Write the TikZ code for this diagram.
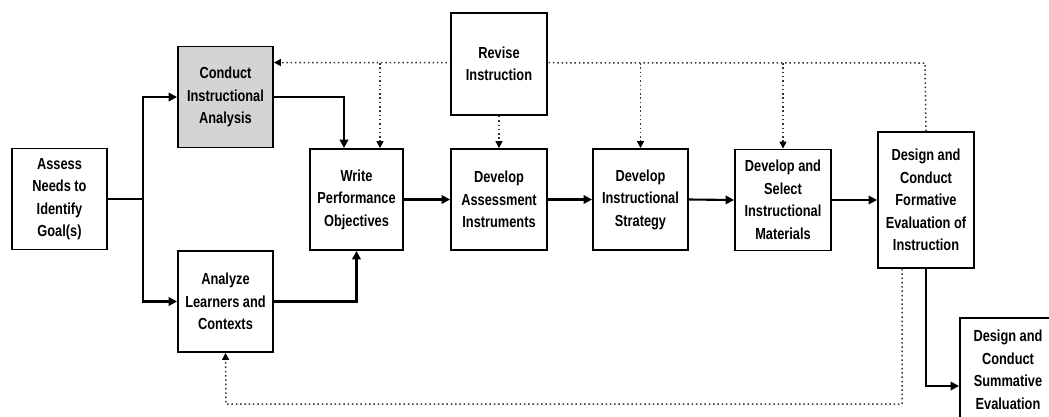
\documentclass[tikz,border=0pt]{standalone}
\usepackage{fontspec}
\setmainfont{Liberation Sans}[FakeStretch=0.8]
\usetikzlibrary{arrows.meta}
\tikzset{
  box/.style={draw=black, line width=1.9pt, fill=white, rectangle, inner sep=2pt,
    minimum width=95pt, minimum height=101pt, align=center,
    font=\bfseries\fontsize{16}{22.5}\selectfont},
  flow/.style={draw=black, line width=2.1pt, -{Triangle[length=8.5pt,width=8.5pt]}},
  thickflow/.style={draw=black, line width=2.7pt, -{Triangle[length=8.5pt,width=8.5pt]}},
  plain/.style={draw=black, line width=2.7pt},
  fb/.style={draw=black!80, line width=1.5pt, dash pattern=on 1.5pt off 2.8pt},
  fbarrow/.style={fb, -{Triangle[length=7pt,width=7pt,color=black,fill=black]}},
}
\begin{document}
\begin{tikzpicture}[x=1pt,y=-1pt]
\useasboundingbox (0,0) rectangle (1049,416);
\clip (0,0) rectangle (1049,416);
\fill[white] (0,0) rectangle (1049,416);

% feedback corner points
\coordinate (fbtop) at (925,63);
\coordinate (fbbot) at (902,404);
\coordinate (fbleft) at (226,404);

% boxes
\node[box] (assess) at (59.5,199) {Assess\\Needs to\\Identify\\Goal(s)};
\node[box, fill=black!17] (conduct) at (225.5,97) {Conduct\\Instructional\\Analysis};
\node[box] (analyze) at (225.5,301.5) {Analyze\\Learners and\\Contexts};
\node[box, minimum width=93pt] (write) at (356.5,199.5) {Write\\Performance\\Objectives};
\node[box, minimum width=96pt] (devassess) at (499,199.5) {Develop\\Assessment\\Instruments};
\node[box] (strategy) at (640.5,199.5) {Develop\\Instructional\\Strategy};
\node[box, minimum width=96pt] (select) at (783,200) {Develop and\\Select\\Instructional\\Materials};
\node[box, minimum width=96pt, minimum height=136pt] (formative) at (926,200) {Design and\\Conduct\\Formative\\Evaluation of\\Instruction};
\node[box, minimum width=96pt, minimum height=104pt] (summative) at (1008,370) {Design and\\Conduct\\Summative\\Evaluation};

% dotted feedback from formative evaluation
\draw[fbarrow] (formative.north) -- (fbtop) -- ([yshift=-17pt]conduct.north east);
\draw[fbarrow] ([xshift=23.5pt]write.north |- fbtop) -- ([xshift=23.5pt]write.north);
\draw[fbarrow] (strategy.north |- fbtop) -- (strategy.north);
\draw[fbarrow] (select.north |- fbtop) -- (select.north);
\draw[fbarrow] ([xshift=-24pt]formative.south) -- (fbbot) -- (fbleft) -- (analyze.south);

% revise box on top of the dotted line
\node[box, minimum width=96pt, minimum height=102pt] (revise) at (499,64) {Revise\\Instruction};
\draw[fbarrow] (revise.south) -- (devassess.north);

% main flow
\coordinate (j1) at (143,199);
\draw[plain] (assess.east) -- (j1);
\draw[thickflow] (j1) |- (conduct.west);
\draw[thickflow] (j1) |- (analyze.west);
\draw[thickflow] (conduct.east) -| ([xshift=-12.5pt]write.north);
\draw[thickflow] (analyze.east) -| (write.south);
\draw[flow] (write.east) -- (devassess.west);
\draw[flow] (devassess.east) -- (strategy.west);
\draw[flow] (strategy.east) -- (select.west);
\draw[flow] (select.east) -- (formative.west);
\draw[flow] (formative.south) |- ([yshift=-16pt]summative.west);
\end{tikzpicture}
\end{document}
